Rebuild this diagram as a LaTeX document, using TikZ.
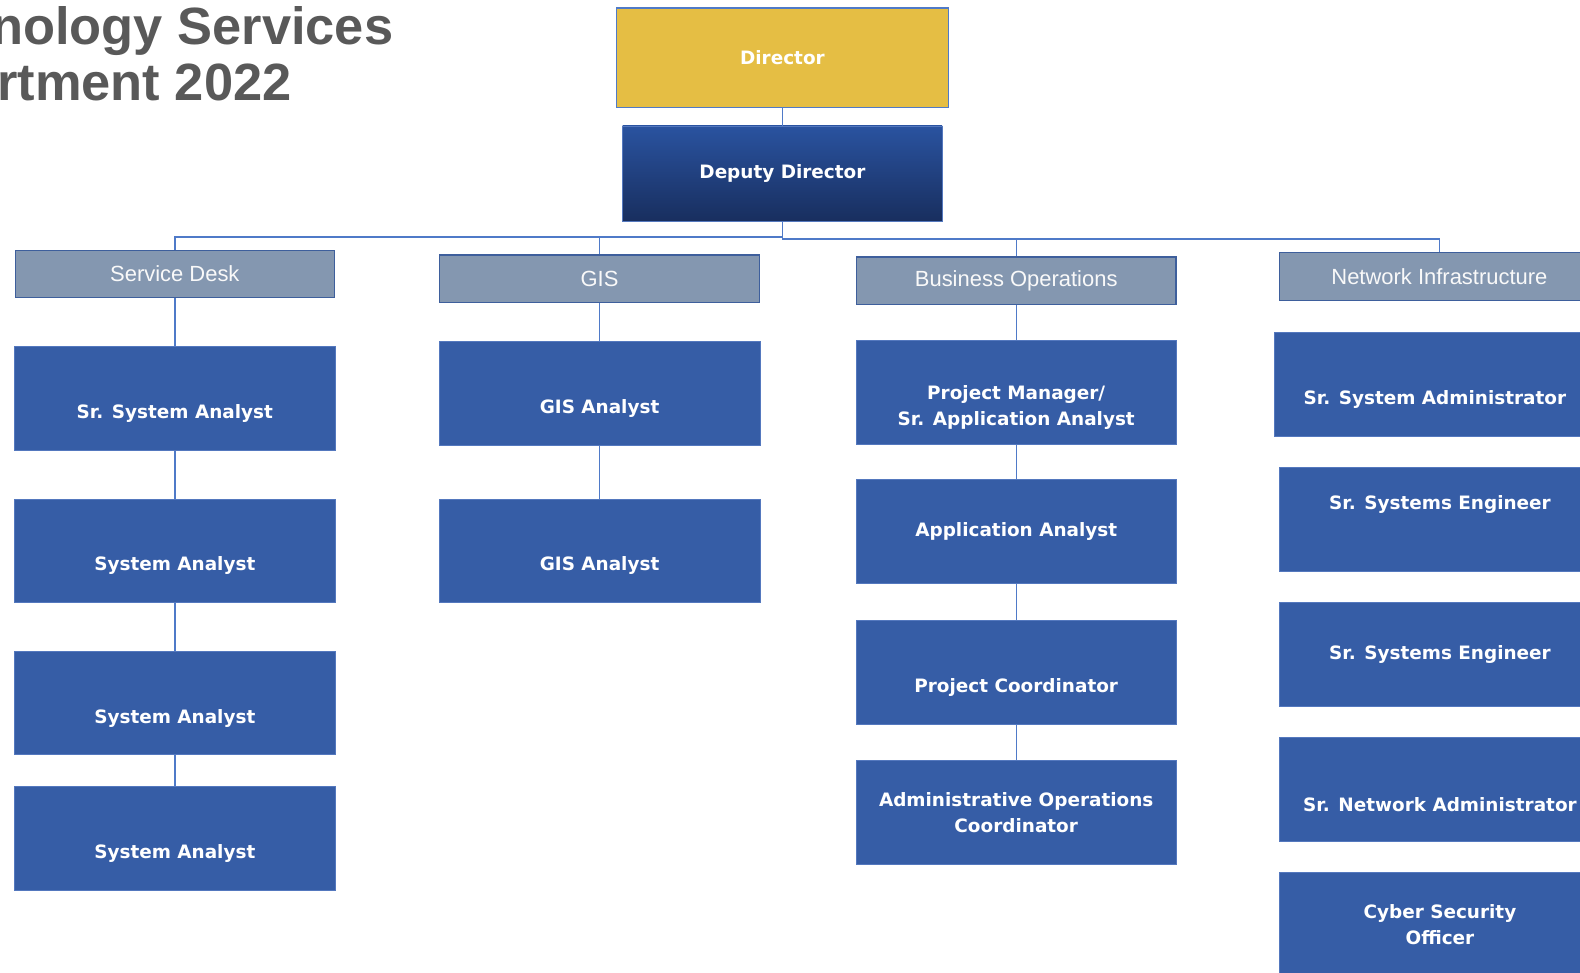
\documentclass[tikz,border=0pt]{standalone}
\usepackage{tikz}
\usepackage{xcolor}
\usepackage{fontspec}
\newfontfamily\boxfont{DejaVu Sans}
\newfontfamily\headfont{Liberation Sans}

\definecolor{gold}{RGB}{229,190,68}
\definecolor{rolefill}{RGB}{54,93,166}
\definecolor{roleline}{RGB}{84,120,190}
\definecolor{unitfill}{RGB}{132,151,176}
\definecolor{unitline}{RGB}{62,95,156}
\definecolor{linkblue}{RGB}{79,122,200}
\definecolor{titlegray}{RGB}{89,89,89}
\definecolor{deptop}{RGB}{42,83,160}
\definecolor{depbot}{RGB}{24,46,94}

\tikzset{
	role/.style={draw=roleline, line width=0.4pt, fill=rolefill, text=white, align=center, inner sep=0pt,
		minimum width=7.95cm, minimum height=2.575cm, font=\boxfont\bfseries\fontsize{13}{18.5}\selectfont},
	unit/.style={draw=unitline, line width=0.8pt, fill=unitfill, text=white!95!gray, inner sep=0pt,
		minimum width=7.925cm, minimum height=1.175cm, font=\headfont\fontsize{15.5}{18}\selectfont},
	link/.style={draw=linkblue, line width=1pt},
	heading/.style={anchor=base west, inner sep=0pt, text=titlegray, font=\headfont\bfseries\fontsize{37}{44}\selectfont}
}

\begin{document}
\begin{tikzpicture}[x=0.025cm, y=-0.025cm]
	\useasboundingbox (0,0) rectangle (1568,965.6);
	
	\node[heading] (title1) at (-9,44) {nology Services};
	\node[heading] (title2) at (-3,100) {rtment 2022};
	
	\node[role, fill=gold, draw=linkblue, line width=0.8pt, minimum width=8.225cm, minimum height=2.475cm] (director) at (776.5,57.5) {Director};
	\node[role, top color=deptop, bottom color=depbot, minimum width=7.925cm, minimum height=2.375cm] (deputy) at (776.5,172.5) {Deputy Director};
	
	% units
	\node[unit] (desk) at (173.5,272) {Service Desk};
	\node[unit] (gis) at (595,276.5) {GIS};
	\node[unit] (busops) at (1008.5,278.5) {Business Operations};
	\node[unit] (netinf) at (1428.5,274.5) {Network Infrastructure};
	
	% service desk
	\node[role] (desk1) at (173.5,395.5) {\strut\\Sr. System Analyst};
	\node[role] (desk2) at (173.5,546.5) {\strut\\System Analyst};
	\node[role] (desk3) at (173.5,697.5) {\strut\\System Analyst};
	\node[role] (desk4) at (173.5,832) {\strut\\System Analyst};
	
	% gis
	\node[role] (gis1) at (595,390.5) {\strut\\GIS Analyst};
	\node[role] (gis2) at (595,546.5) {\strut\\GIS Analyst};
	
	% business operations
	\node[role] (busops1) at (1008.5,389.5) {\strut\\Project Manager/\\Sr. Application Analyst};
	\node[role] (busops2) at (1008.5,527.5) {Application Analyst};
	\node[role] (busops3) at (1008.5,667) {\strut\\Project Coordinator};
	\node[role] (busops4) at (1008.5,806.5) {Administrative Operations\\Coordinator};
	
	% network infrastructure
	\node[role] (netinf1) at (1424,381.5) {\strut\\Sr. System Administrator};
	\node[role] (netinf2) at (1429,515.5) {Sr. Systems Engineer\\\strut};
	\node[role] (netinf3) at (1429,649.5) {Sr. Systems Engineer};
	\node[role] (netinf4) at (1429,783.5) {\strut\\Sr. Network Administrator};
	\node[role] (netinf5) at (1429,917.5) {Cyber Security\\Officer};
	
	\coordinate (busL) at (776.5,235);
	\coordinate (busR) at (776.5,237);
	
	\draw[link] (director) -- (deputy);
	\draw[link] (deputy.south) -- (busR);
	\draw[link] (busL) -| (desk.north);
	\draw[link] (busL) -| (gis.north);
	\draw[link] (busR) -| (busops.north);
	\draw[link] (busR) -| (netinf.north);
	
	\draw[link] (desk) -- (desk1);
	\draw[link] (desk1) -- (desk2);
	\draw[link] (desk2) -- (desk3);
	\draw[link] (desk3) -- (desk4);
	\draw[link] (gis) -- (gis1);
	\draw[link] (gis1) -- (gis2);
	\draw[link] (busops) -- (busops1);
	\draw[link] (busops1) -- (busops2);
	\draw[link] (busops2) -- (busops3);
	\draw[link] (busops3) -- (busops4);
\end{tikzpicture}
\end{document}
